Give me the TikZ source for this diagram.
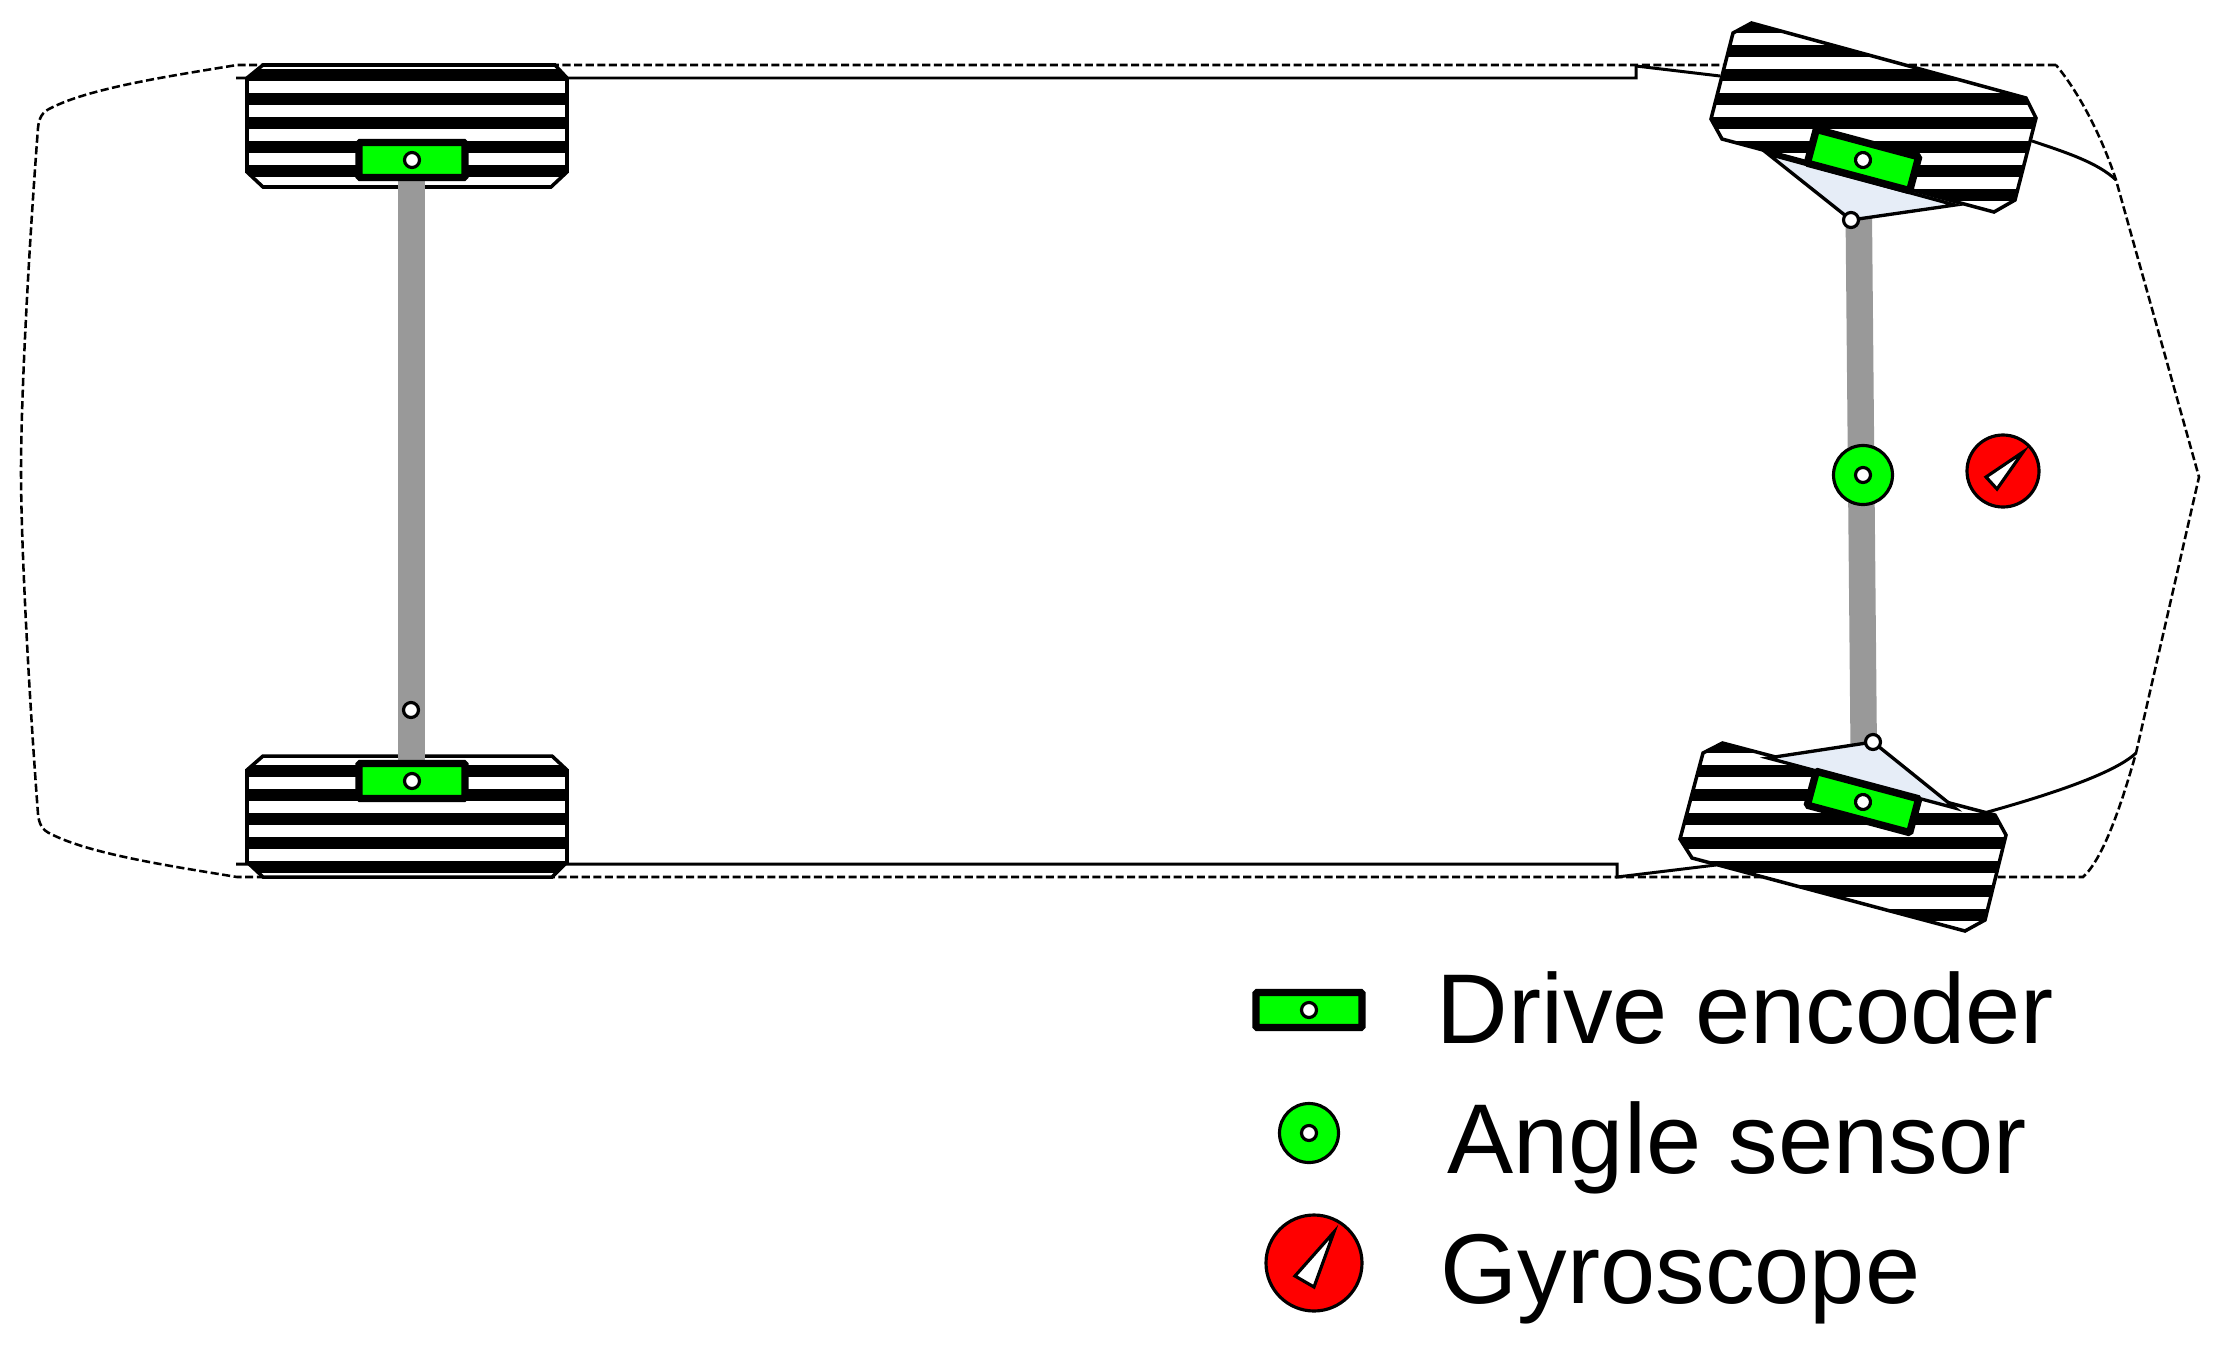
\documentclass[tikz,border=0pt]{standalone}
\usepackage{fontspec}
\setmainfont{Liberation Sans}

\definecolor{encgreen}{HTML}{00FF00}
\definecolor{gyrored}{HTML}{FF0000}
\definecolor{axlegray}{HTML}{999999}
\definecolor{armblue}{HTML}{E6EDF7}

\tikzset{
  hull/.style={line width=0.72pt, dash pattern=on 2.3pt off 1pt},
  body/.style={line width=0.85pt},
  tyre/.style={line width=1pt},
  arm/.style={line width=0.95pt, fill=armblue},
  axle/.style={fill=axlegray},
  encbox/.style={line width=2.1pt, fill=encgreen, rounded corners=0.4pt},
  dot/.style={line width=0.9pt, fill=white},
  anglebody/.style={line width=0.9pt, fill=encgreen},
  gyrobody/.style={line width=0.9pt, fill=gyrored},
  needle/.style={line width=0.9pt, fill=white},
  legendtext/.style={anchor=base west, inner sep=0pt, font=\fontsize{28.2pt}{34pt}\selectfont}
}

% #1 outline, #2 first stripe
\newcommand{\tyreshape}[2]{
  \fill[white] #1 -- cycle;
  \begin{scope}
    \clip #1 -- cycle;
    \foreach \k in {0,...,8}
      \fill (0,{#2+24*\k}) rectangle (2220,{#2+24*\k+12});
  \end{scope}
  \draw[tyre] #1 -- cycle;
}

\newcommand{\encoderat}[3]{
  \begin{scope}[shift={(#1,#2)},rotate=#3]
    \draw[encbox] (-53,-17.5) rectangle (53,17.5);
    \draw[dot] (0,0) circle (7.5);
  \end{scope}
}

\begin{document}
\begin{tikzpicture}[x=0.01cm,y=-0.01cm]
\useasboundingbox (0,0) rectangle (2220,1351);

% outline of the car
\draw[hull] (2056,65) -- (237,65) .. controls (170,76) and (90,88) .. (51,108)
  .. controls (42,112) and (39,118) .. (38,128) .. controls (28,260) and (21,400) .. (21,471)
  .. controls (21,540) and (28,680) .. (38,814) .. controls (39,824) and (42,830) .. (51,834)
  .. controls (90,854) and (170,866) .. (237,877) -- (2083,877)
  .. controls (2102,860) and (2120,810) .. (2136,753) -- (2199,477) -- (2116,180)
  .. controls (2103,140) and (2081,95) .. (2056,65);

\draw[body] (236,78) -- (567,78) -- (1636,78) -- (1636,66) -- (1720,76);
\draw[body] (236,864) -- (567,864) -- (1617,864) -- (1617,877) -- (1716,865);
\draw[body] (2032,141) .. controls (2068,153) and (2098,163) .. (2116,180);
\draw[body] (1984,813) .. controls (2038,798) and (2113,775) .. (2136,753);

% wheels
\tyreshape{(263,65) -- (555,65) -- (567,78) -- (567,172) -- (551,187) -- (263,187) -- (247,172) -- (247,78)}{69}
\tyreshape{(263,756) -- (552,756) -- (567,770) -- (567,862) -- (552,877) -- (263,877) -- (247,862) -- (247,770)}{765}
\tyreshape{(1751.5,23) -- (2026,98) -- (2036,118) -- (2015,200) -- (1994,212) -- (1722,139) -- (1711,119) -- (1733,33)}{21}
\tyreshape{(1722.5,743) -- (1995,815) -- (2006,835) -- (1985,920) -- (1965,931) -- (1692,858) -- (1680,839) -- (1703,753)}{741}

% axles
\fill[axle] (398,175) rectangle (425,765);
\fill[axle] (1845.5,212) -- (1872,212) -- (1877,752) -- (1850.5,752) -- cycle;

% steering arms
\coordinate (pivottop) at (1851,220);
\coordinate (pivotbot) at (1873,742);
\draw[arm] (1768,154) -- (1955,205) -- (pivottop) -- cycle;
\draw[arm] (1768,758) -- (1955,808) -- (pivotbot) -- cycle;
\draw[dot] (pivottop) circle (7.5);
\draw[dot] (pivotbot) circle (7.5);
\draw[dot] (411,710) circle (7.5);

% sensors on the car
\encoderat{412}{160}{0}
\encoderat{412}{781}{0}
\encoderat{1863}{160}{-15}
\encoderat{1863}{802}{-15}

\draw[anglebody] (1863,475) circle (29.5);
\draw[dot] (1863,475) circle (7.5);
\draw[gyrobody] (2003,471) circle (36);
\draw[needle] (2023,452) -- (1986,477) -- (1997,489) -- cycle;

% legend
\encoderat{1309}{1010}{0}
\draw[anglebody] (1309,1133) circle (29.5);
\draw[dot] (1309,1133) circle (7.5);
\draw[gyrobody] (1314,1263) circle (48);
\draw[needle] (1334,1232) -- (1295,1276) -- (1314,1287) -- cycle;

\node[legendtext] (lblencoder) at (1436,1043) {Drive encoder};
\node[legendtext] (lblangle) at (1447,1173) {Angle sensor};
\node[legendtext] (lblgyro) at (1440,1303) {Gyroscope};

\end{tikzpicture}
\end{document}
